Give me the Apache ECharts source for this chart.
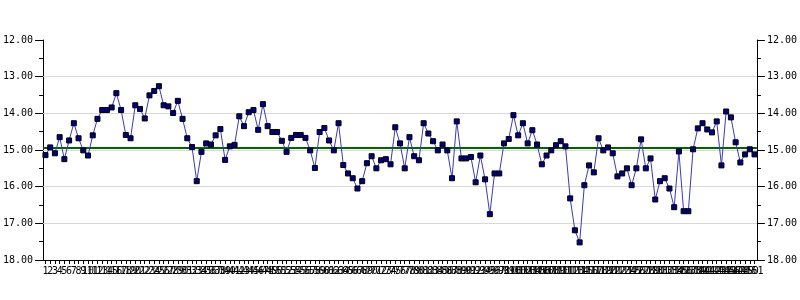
<!DOCTYPE html>
<html>
<head>
<meta charset="utf-8">
<script src="https://cdn.jsdelivr.net/npm/echarts@6/dist/echarts.min.js"></script>
<style>html,body{margin:0;padding:0;background:#fff}#c{width:800px;height:300px}</style>
</head>
<body>
<div id="c"></div>
<script>
const values = [
15.14,14.93,15.09,14.65,15.25,14.74,14.27,14.68,15.01,15.15,
14.60,14.15,13.91,13.91,13.84,13.45,13.91,14.59,14.68,13.78,
13.88,14.14,13.51,13.39,13.26,13.78,13.81,13.99,13.66,14.15,
14.68,14.92,15.85,15.05,14.82,14.85,14.60,14.43,15.27,14.90,
14.86,14.08,14.35,13.97,13.91,14.45,13.75,14.35,14.51,14.51,
14.75,15.05,14.67,14.59,14.59,14.67,15.01,15.49,14.51,14.40,
14.74,15.01,14.27,15.41,15.64,15.77,16.05,15.85,15.36,15.17,
15.50,15.28,15.25,15.39,14.38,14.82,15.50,14.65,15.17,15.28,
14.27,14.55,14.76,15.01,14.85,15.01,15.77,14.22,15.23,15.23,
15.19,15.88,15.15,15.80,16.75,15.64,15.64,14.82,14.70,14.05,
14.60,14.27,14.82,14.46,14.85,15.39,15.15,15.01,14.87,14.76,
14.90,16.32,17.19,17.52,15.96,15.42,15.61,14.68,15.01,14.93,
15.09,15.72,15.64,15.50,15.96,15.50,14.71,15.50,15.23,16.35,
15.85,15.77,16.05,16.56,15.04,16.67,16.67,14.98,14.41,14.27,
14.44,14.52,14.22,15.42,13.95,14.11,14.79,15.34,15.12,14.98,
15.12
];
const categories = values.map((v, i) => String(i + 1));
const centerLine = 14.93;
const gridValues = [13, 14, 15, 16, 17];
const yMin = 12, yMax = 18, yStep = 1;

const font = 'DejaVu Sans Mono';
function yAxisCfg(pos) {
  return {
    type: 'value', position: pos, inverse: true,
    min: yMin, max: yMax, interval: yStep,
    axisLine: { show: true, lineStyle: { color: '#000', width: 1 } },
    axisTick: { show: true, length: 8, lineStyle: { color: '#000' } },
    minorTick: { show: true, splitNumber: 2, length: 4, lineStyle: { color: '#000' } },
    splitLine: { show: false },
    axisLabel: { color: '#000', fontFamily: font, fontSize: 10, margin: 10,
      formatter: v => v.toFixed(2) }
  };
}
const chart = echarts.init(document.getElementById('c'), null, { renderer: 'canvas' });
chart.setOption({
  animation: false,
  backgroundColor: '#fff',
  grid: { left: 40, right: 40, top: 40, bottom: 40, containLabel: false },
  xAxis: {
    type: 'category', data: categories, boundaryGap: true,
    axisLine: { show: true, lineStyle: { color: '#000', width: 1 } },
    axisTick: { show: true, interval: 0, length: 4, alignWithLabel: true, lineStyle: { color: '#000' } },
    axisLabel: { interval: 0, hideOverlap: false, color: '#000', fontFamily: font, fontSize: 10, margin: 6 },
    splitLine: { show: false }
  },
  yAxis: [yAxisCfg('left'), yAxisCfg('right')],
  series: [{
    type: 'line', data: values, yAxisIndex: 0,
    symbol: 'rect', symbolSize: 5,
    lineStyle: { color: '#3a3ab8', width: 1 },
    itemStyle: { color: '#000080', borderColor: '#000', borderWidth: 1 },
    z: 3,
    markLine: {
      silent: true, symbol: 'none', label: { show: false },
      data: gridValues.map(g => ({ yAxis: g, lineStyle: { color: '#d8d8d8', width: 1, type: 'solid' } }))
        .concat([{ yAxis: centerLine, lineStyle: { color: '#006400', width: 2, type: 'solid' } }]),
      z: 2
    }
  }]
});
</script>
</body>
</html>
